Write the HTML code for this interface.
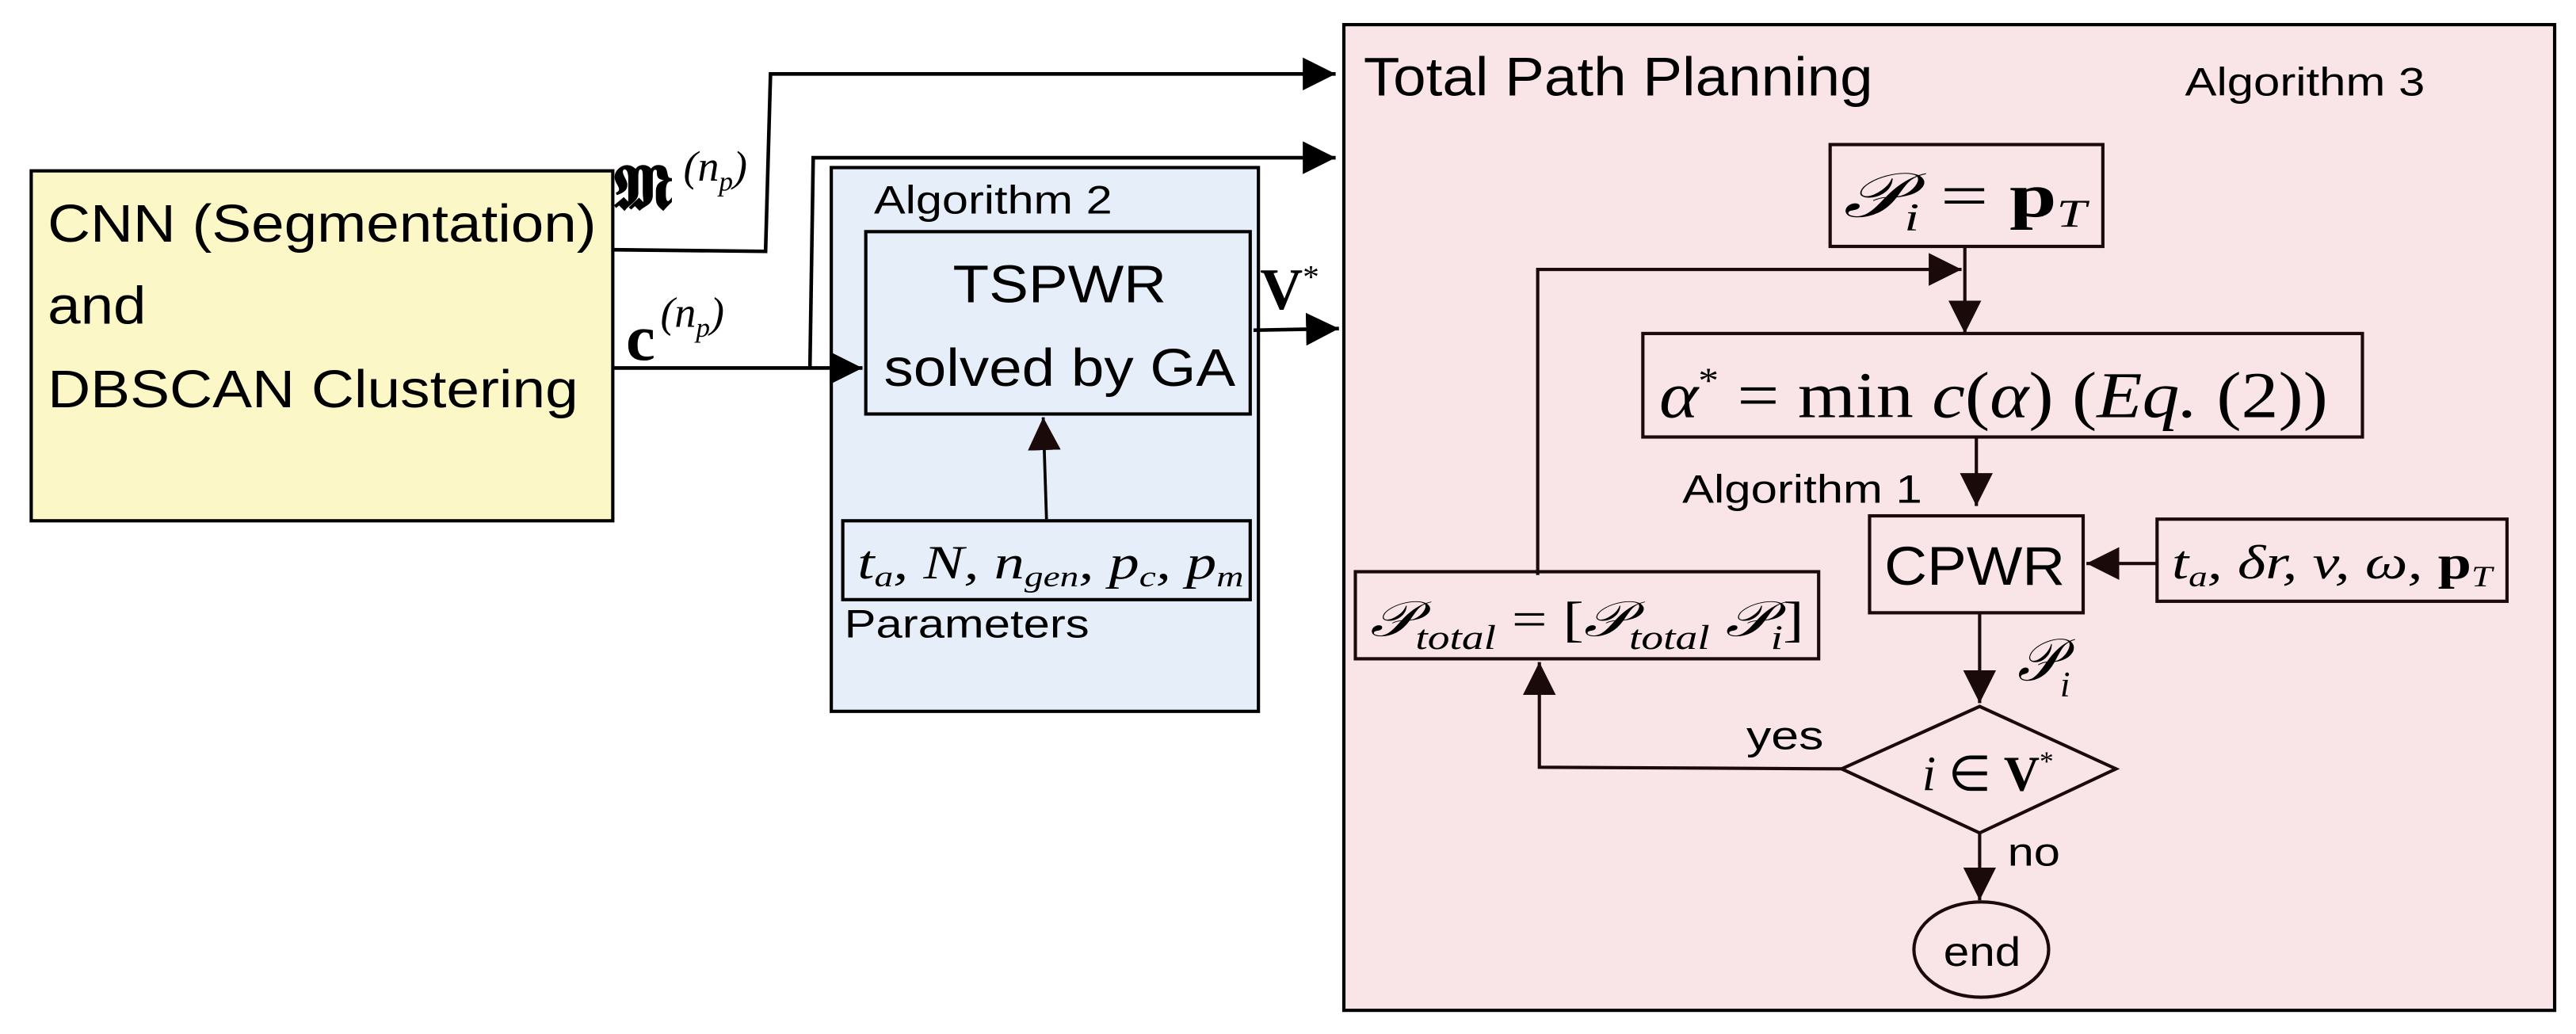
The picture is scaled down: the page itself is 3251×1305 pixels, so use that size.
<!DOCTYPE html>
<html><head><meta charset="utf-8"><style>html,body{margin:0;padding:0;background:#fff}svg{display:block}</style></head>
<body>
<svg width="3251" height="1305" viewBox="0 0 1568 629.4" preserveAspectRatio="none" xmlns="http://www.w3.org/2000/svg">
<defs>
<marker id="b" viewBox="0 0 10 10" refX="10" refY="5" markerWidth="20" markerHeight="20" markerUnits="userSpaceOnUse" orient="auto"><path d="M0,0 L10,5 L0,10z" fill="#000"/></marker>
<marker id="c" viewBox="0 0 10 10" refX="10" refY="5" markerWidth="20" markerHeight="20" markerUnits="userSpaceOnUse" orient="auto"><path d="M0,0 L10,5 L0,10z" fill="#1a0a0a"/></marker>
</defs>
<g font-family="Liberation Sans, sans-serif" fill="#000">
<rect x="19" y="104" width="354" height="213" fill="#fbf7c7" stroke="#000" stroke-width="2"/>
<rect x="506" y="102" width="260" height="331" fill="#e6eff9" stroke="#000" stroke-width="2"/>
<rect x="818" y="15" width="737" height="600" fill="#f9e4e8" stroke="#000" stroke-width="2"/>

<text x="29" y="147" font-size="32" textLength="334" lengthAdjust="spacingAndGlyphs">CNN (Segmentation)</text>
<text x="29" y="197" font-size="32" textLength="60" lengthAdjust="spacingAndGlyphs">and</text>
<text x="29" y="248" font-size="32" textLength="323" lengthAdjust="spacingAndGlyphs">DBSCAN Clustering</text>

<text x="532" y="130" font-size="24" textLength="145" lengthAdjust="spacingAndGlyphs">Algorithm 2</text>
<rect x="527" y="141" width="234" height="111" fill="none" stroke="#000" stroke-width="2"/>
<text x="580" y="184" font-size="32" textLength="130" lengthAdjust="spacingAndGlyphs">TSPWR</text>
<text x="538" y="235" font-size="32" textLength="214" lengthAdjust="spacingAndGlyphs">solved by GA</text>
<rect x="513" y="317" width="248" height="48" fill="none" stroke="#000" stroke-width="2"/>
<text x="522" y="352" font-size="29" font-family="Liberation Serif, serif" font-style="italic" textLength="235" lengthAdjust="spacingAndGlyphs">t<tspan font-size="18" dy="5">a</tspan><tspan dy="-5">, N, n</tspan><tspan font-size="18" dy="5">gen</tspan><tspan dy="-5">, p</tspan><tspan font-size="18" dy="5">c</tspan><tspan dy="-5">, p</tspan><tspan font-size="18" dy="5">m</tspan></text>
<text x="514" y="388" font-size="24" textLength="149" lengthAdjust="spacingAndGlyphs">Parameters</text>

<g stroke="#000" stroke-width="2.2" fill="none">
<polyline points="373,152 466,153 469,45 813,45" marker-end="url(#b)"/>
<polyline points="493,224 495,96 813,96" marker-end="url(#b)"/>
<polyline points="373,224 525,224" marker-end="url(#b)"/>
<polyline points="763,201 815,200" marker-end="url(#b)"/>
<polyline points="637,316 635,254" stroke-width="1.8" marker-end="url(#c)"/>
</g>
<text x="374" y="127" font-size="38" font-family="DejaVu Serif, serif" font-weight="bold">𝕸</text>
<text x="416" y="110" font-size="26" font-family="Liberation Serif, serif" font-style="italic">(n<tspan font-size="17" dy="6">p</tspan><tspan dy="-6">)</tspan></text>
<text x="381" y="219" font-size="40" font-family="Liberation Serif, serif" font-weight="bold">c</text>
<text x="402" y="199" font-size="26" font-family="Liberation Serif, serif" font-style="italic">(n<tspan font-size="17" dy="6">p</tspan><tspan dy="-6">)</tspan></text>
<text x="767" y="188" font-size="36" font-family="Liberation Serif, serif" font-weight="bold">V<tspan font-size="20" dy="-13" font-weight="normal">*</tspan></text>

<text x="830" y="58" font-size="33" textLength="310" lengthAdjust="spacingAndGlyphs">Total Path Planning</text>
<text x="1330" y="58" font-size="24" textLength="146" lengthAdjust="spacingAndGlyphs">Algorithm 3</text>

<g stroke="#1a0a0a" stroke-width="2" fill="none">
<rect x="1114" y="88" width="166" height="62"/>
<rect x="1000" y="203" width="438" height="63"/>
<rect x="1138" y="314" width="130" height="59"/>
<rect x="1313" y="316" width="213" height="50"/>
<rect x="825" y="348" width="282" height="53"/>
<polygon points="1121,468 1205,430 1288,468 1205,507"/>
<ellipse cx="1206" cy="578" rx="41" ry="29"/>
<polyline points="1196,150 1196,203" marker-end="url(#c)"/>
<polyline points="936,350 936,164 1194,164" marker-end="url(#c)"/>
<polyline points="1203,266 1203,308" marker-end="url(#c)"/>
<polyline points="1313,343 1270,343" marker-end="url(#c)"/>
<polyline points="1205,373 1205,428" marker-end="url(#c)"/>
<polyline points="1121,468 937,467 937,403" marker-end="url(#c)"/>
<polyline points="1205,507 1205,548" marker-end="url(#c)"/>
</g>

<text x="1122" y="132" font-size="38" font-family="Liberation Serif, serif" textLength="148" lengthAdjust="spacingAndGlyphs"><tspan font-style="italic">𝒫</tspan><tspan font-size="24" dy="8" font-style="italic">i</tspan><tspan dy="-8"> = </tspan><tspan font-weight="bold">p</tspan><tspan font-size="24" dy="6" font-style="italic">T</tspan></text>
<text x="1010" y="254" font-size="40" font-family="Liberation Serif, serif" textLength="407" lengthAdjust="spacingAndGlyphs"><tspan font-style="italic">α</tspan><tspan font-size="22" dy="-15">*</tspan><tspan dy="15"> = min </tspan><tspan font-style="italic">c</tspan>(<tspan font-style="italic">α</tspan>)  (<tspan font-style="italic">Eq.</tspan> (2))</text>
<text x="1024" y="306" font-size="24" textLength="146" lengthAdjust="spacingAndGlyphs">Algorithm 1</text>
<text x="1147" y="356" font-size="33" textLength="110" lengthAdjust="spacingAndGlyphs">CPWR</text>
<text x="1322" y="352" font-size="29" font-family="Liberation Serif, serif" font-style="italic" textLength="195" lengthAdjust="spacingAndGlyphs">t<tspan font-size="18" dy="5">a</tspan><tspan dy="-5">, δr, v, ω, </tspan><tspan font-style="normal" font-weight="bold">p</tspan><tspan font-size="18" dy="5">T</tspan></text>
<text x="834" y="387" font-size="30" font-family="Liberation Serif, serif" textLength="264" lengthAdjust="spacingAndGlyphs"><tspan font-style="italic">𝒫</tspan><tspan font-size="21" dy="8" font-style="italic">total</tspan><tspan dy="-8"> = [</tspan><tspan font-style="italic">𝒫</tspan><tspan font-size="21" dy="8" font-style="italic">total</tspan><tspan dy="-8"> </tspan><tspan font-style="italic">𝒫</tspan><tspan font-size="21" dy="8" font-style="italic">i</tspan><tspan dy="-8">]</tspan></text>
<text x="1228" y="414" font-size="36" font-family="Liberation Serif, serif" font-style="italic">𝒫<tspan font-size="22" dy="10">i</tspan></text>
<text x="1063" y="456" font-size="24" textLength="47" lengthAdjust="spacingAndGlyphs">yes</text>
<text x="1170" y="481" font-size="30" font-family="Liberation Serif, serif" textLength="80" lengthAdjust="spacingAndGlyphs"><tspan font-style="italic">i</tspan> ∈ <tspan font-weight="bold">V</tspan><tspan font-size="17" dy="-12">*</tspan></text>
<text x="1222" y="527" font-size="24" textLength="32" lengthAdjust="spacingAndGlyphs">no</text>
<text x="1183" y="588" font-size="25" textLength="47" lengthAdjust="spacingAndGlyphs">end</text>
</g>
</svg>
</body></html>
